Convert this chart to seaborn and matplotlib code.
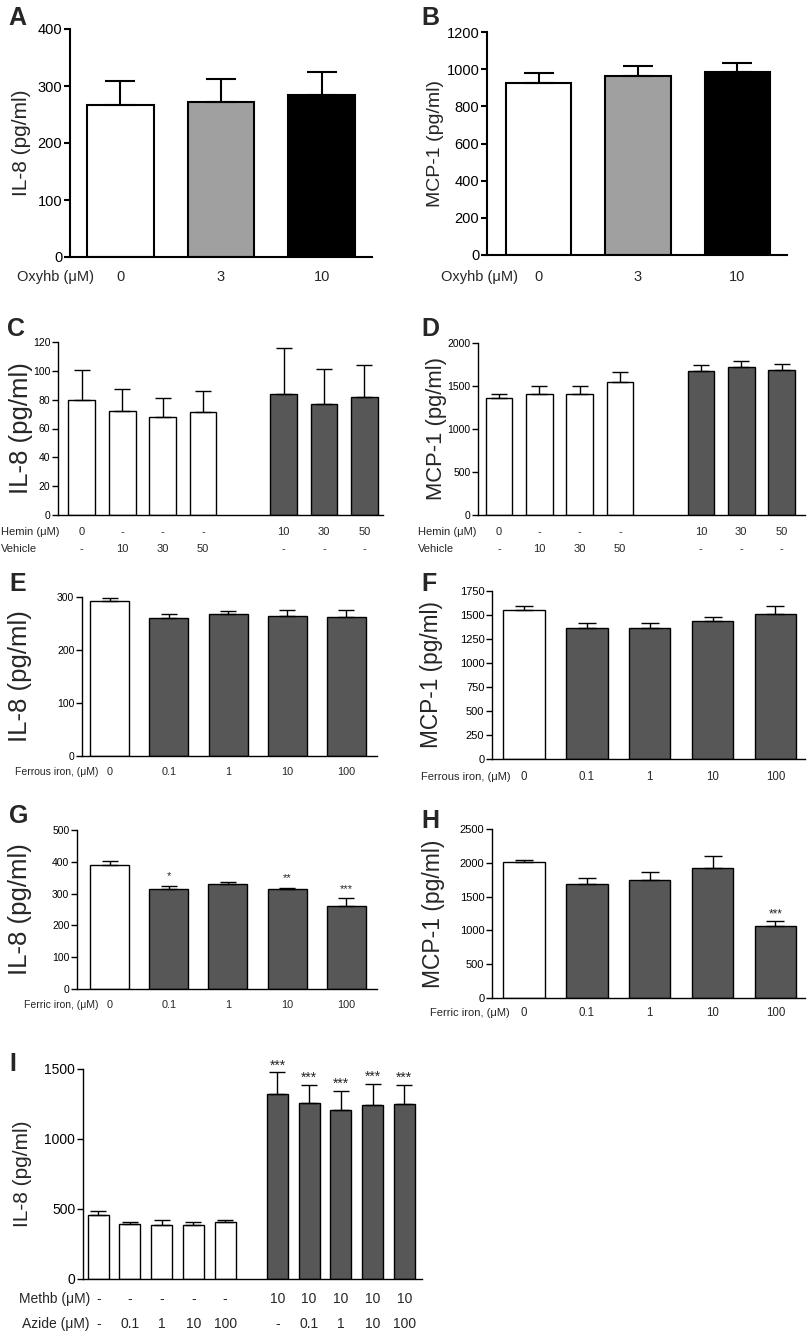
import numpy as np
import pandas as pd
import matplotlib
matplotlib.use("Agg")
import matplotlib.pyplot as plt
import matplotlib.transforms as mtransforms
import seaborn as sns

# ---------------- data ----------------
A_labels = ["0", "3", "10"]
A_il8 = [267, 272, 285]
A_il8_sem = [42, 41, 40]

B_labels = ["0", "3", "10"]
B_mcp1 = [927, 963, 983]
B_mcp1_sem = [51, 54, 52]

CD_hemin = ["0", "-", "-", "-", "10", "30", "50"]
CD_vehicle = ["-", "10", "30", "50", "-", "-", "-"]
C_il8 = [79.5, 71.8, 67.9, 71.1, 83.9, 76.9, 81.8]
C_il8_sem = [21.0, 15.3, 13.6, 14.6, 32.1, 24.6, 22.0]
D_mcp1 = [1360, 1411, 1407, 1547, 1674, 1721, 1682]
D_mcp1_sem = [43, 89, 89, 116, 66, 74, 78]

iron_labels = ["0", "0.1", "1", "10", "100"]
E_il8 = [293, 261, 268, 265, 263]
E_il8_sem = [6, 6, 5, 10, 12]
F_mcp1 = [1549, 1365, 1369, 1438, 1511]
F_mcp1_sem = [45, 52, 52, 42, 83]
G_il8 = [391, 316, 330, 315, 262]
G_il8_sem = [12, 9, 8, 4, 23]
G_stars = ["", "*", "", "**", "***"]
H_mcp1 = [2007, 1681, 1750, 1918, 1070]
H_mcp1_sem = [34, 99, 109, 183, 64]
H_stars = ["", "", "", "", "***"]

I_methb = ["-", "-", "-", "-", "-", "10", "10", "10", "10", "10"]
I_azide = ["-", "0.1", "1", "10", "100", "-", "0.1", "1", "10", "100"]
I_il8 = [454, 390, 387, 383, 404, 1322, 1255, 1208, 1246, 1253]
I_il8_sem = [29, 16, 36, 21, 19, 154, 133, 137, 147, 135]
I_stars = ["", "", "", "", "", "***", "***", "***", "***", "***"]

WHITE, GREY, BLACK, DARK = "#ffffff", "#a0a0a0", "#000000", "#575757"

# ---------------- style ----------------
sns.set_theme(style="ticks")
plt.rcParams["font.family"] = ["Liberation Sans", "DejaVu Sans"]
W, H = 810, 1334
fig = plt.figure(figsize=(W / 100, H / 100), dpi=100)


def fy(y):
    return 1 - y / H


def make_ax(l, t, r, b):
    return fig.add_axes([l / W, 1 - b / H, (r - l) / W, (b - t) / H])


def panel(box, pos, means, sems, colors, ylim, yticks, xlim, ylabel,
          ylabel_right, lw=1.0, cap=6, tsize=7, ylsize=16,
          stars=None, starsize=8, staroff=0):
    l, t, r, b = box
    ax = make_ax(l, t, r, b)
    n = len(means)
    df = pd.DataFrame({"pos": pos, "val": means,
                       "grp": [str(i) for i in range(n)]})
    pal = {str(i): c for i, c in enumerate(colors)}
    sns.barplot(data=df, x="pos", y="val", hue="grp", palette=pal,
                native_scale=True, dodge=False, width=0.66, saturation=1,
                edgecolor="black", linewidth=lw, errorbar=None,
                legend=False, ax=ax)
    ax.errorbar(pos, means, yerr=[np.zeros(n), sems], fmt="none",
                ecolor="black", elinewidth=lw, capsize=cap, capthick=lw,
                zorder=3)
    if stars:
        for p, m, s, st in zip(pos, means, sems, stars):
            if st:
                ax.annotate(st, (p, m + s), xytext=(0, staroff),
                            textcoords="offset points", ha="center",
                            va="bottom", fontsize=starsize)
    ax.set_xlim(*xlim)
    ax.set_ylim(*ylim)
    ax.set_yticks(yticks)
    ax.set_xticks([])
    ax.set_xlabel("")
    for s in ["top", "right"]:
        ax.spines[s].set_visible(False)
    for s in ["left", "bottom"]:
        ax.spines[s].set_linewidth(lw)
        ax.spines[s].set_color("black")
    ax.tick_params(axis="y", direction="out", length=4, width=lw,
                   labelsize=tsize, pad=1.5, colors="black")
    ax.set_ylabel(ylabel, fontsize=ylsize, labelpad=0)
    ax.yaxis.set_label_coords((ylabel_right - l) / (r - l), 0.5)
    return ax


def row(ax, pos, labels, y, size):
    tr = mtransforms.blended_transform_factory(ax.transData, fig.transFigure)
    for p, s in zip(pos, labels):
        ax.text(p, fy(y), s, transform=tr, ha="center", va="center",
                fontsize=size)


def letter(x, y, s):
    fig.text(x / W, fy(y), s, fontsize=18, fontweight="bold",
             ha="left", va="top")


# ---------------- A ----------------
posA = list(range(3))
axA = panel((70, 29, 372, 257), posA, A_il8, A_il8_sem, [WHITE, GREY, BLACK],
            (0, 400), [0, 100, 200, 300, 400], (-0.5, 2.5), "IL-8 (pg/ml)",
            31, lw=1.5, cap=10.5, tsize=10.5, ylsize=15)
row(axA, posA, A_labels, 277, 10.5)
fig.text(17 / W, fy(277), "Oxyhb (\u03bcM)", fontsize=10.5, va="center")
letter(8, 6, "A")

# ---------------- B ----------------
axB = panel((487, 32, 787, 255), posA, B_mcp1, B_mcp1_sem, [WHITE, GREY, BLACK],
            (0, 1200), list(range(0, 1201, 200)), (-0.52, 2.5), "MCP-1 (pg/ml)",
            444, lw=1.5, cap=10.5, tsize=10.5, ylsize=14)
row(axB, posA, B_labels, 277, 10.5)
fig.text(441 / W, fy(277), "Oxyhb (\u03bcM)", fontsize=10.5, va="center")
letter(421, 6, "B")

# ---------------- C ----------------
posC = [0, 1, 2, 3, 5, 6, 7]
colC = [WHITE] * 4 + [DARK] * 3
axC = panel((58, 342, 383, 515), posC, C_il8, C_il8_sem, colC,
            (0, 120), list(range(0, 121, 20)), (-0.59, 7.46), "IL-8 (pg/ml)",
            33, cap=6, tsize=7.5, ylsize=18.5)
row(axC, posC, CD_hemin, 532, 8)
row(axC, posC, CD_vehicle, 549, 8)
fig.text(1 / W, fy(532), "Hemin (\u03bcM)", fontsize=8, va="center")
fig.text(1 / W, fy(549), "Vehicle", fontsize=8, va="center")
letter(7, 317, "C")

# ---------------- D ----------------
axD = panel((478, 343, 805, 515), posC, D_mcp1, D_mcp1_sem, colC,
            (0, 2000), list(range(0, 2001, 500)), (-0.52, 7.58), "MCP-1 (pg/ml)",
            447, cap=5.5, tsize=7.5, ylsize=15.8)
row(axD, posC, CD_hemin, 532, 8)
row(axD, posC, CD_vehicle, 549, 8)
fig.text(418 / W, fy(532), "Hemin (\u03bcM)", fontsize=8, va="center")
fig.text(418 / W, fy(549), "Vehicle", fontsize=8, va="center")
letter(421, 317, "D")

# ---------------- E ----------------
posE = list(range(5))
colE = [WHITE] + [DARK] * 4
axE = panel((82, 597, 377, 756), posE, E_il8, E_il8_sem, colE,
            (0, 300), [0, 100, 200, 300], (-0.47, 4.52), "IL-8 (pg/ml)",
            32, cap=6, tsize=7.5, ylsize=18.5)
row(axE, posE, iron_labels, 772, 7.8)
fig.text(15 / W, fy(772), "Ferrous iron, (\u03bcM)", fontsize=7.5, va="center")
letter(9, 572, "E")

# ---------------- F ----------------
axF = panel((492, 591, 805, 759), posE, F_mcp1, F_mcp1_sem, colE,
            (0, 1750), list(range(0, 1751, 250)), (-0.51, 4.47), "MCP-1 (pg/ml)",
            443, cap=6.5, tsize=8, ylsize=16.3)
row(axF, posE, iron_labels, 777, 8.3)
fig.text(421 / W, fy(777), "Ferrous iron, (\u03bcM)", fontsize=8, va="center")
letter(421, 572, "F")

# ---------------- G ----------------
axG = panel((77, 830, 377, 989), posE, G_il8, G_il8_sem, colE,
            (0, 500), list(range(0, 501, 100)), (-0.55, 4.52), "IL-8 (pg/ml)",
            32, cap=6, tsize=7.5, ylsize=18.5, stars=G_stars, starsize=8,
            staroff=3)
row(axG, posE, iron_labels, 1005, 7.8)
fig.text(24 / W, fy(1005), "Ferric iron, (\u03bcM)", fontsize=7.5, va="center")
letter(9, 804, "G")

# ---------------- H ----------------
axH = panel((492, 829, 805, 998), posE, H_mcp1, H_mcp1_sem, colE,
            (0, 2500), list(range(0, 2501, 500)), (-0.51, 4.47), "MCP-1 (pg/ml)",
            445, cap=6.5, tsize=8, ylsize=16.5, stars=H_stars, starsize=8.5,
            staroff=1)
row(axH, posE, iron_labels, 1013, 8.3)
fig.text(430 / W, fy(1013), "Ferric iron, (\u03bcM)", fontsize=8, va="center")
letter(421, 809, "H")

# ---------------- I ----------------
gap = 1.65
posI = [0, 1, 2, 3, 4] + [4 + gap + k for k in range(5)]
colI = [WHITE] * 5 + [DARK] * 5
axI = panel((83, 1069, 422, 1279), posI, I_il8, I_il8_sem, colI,
            (0, 1500), [0, 500, 1000, 1500], (-0.48, 10.21), "IL-8 (pg/ml)",
            32, cap=6, tsize=10, ylsize=15, stars=I_stars, starsize=10,
            staroff=0)
row(axI, posI, I_methb, 1299, 10)
row(axI, posI, I_azide, 1324, 10)
fig.text(90 / W, fy(1299), "Methb (\u03bcM)", fontsize=10, va="center", ha="right")
fig.text(90 / W, fy(1324), "Azide (\u03bcM)", fontsize=10, va="center", ha="right")
letter(9, 1052, "I")

fig.savefig("out.png", dpi=100)
